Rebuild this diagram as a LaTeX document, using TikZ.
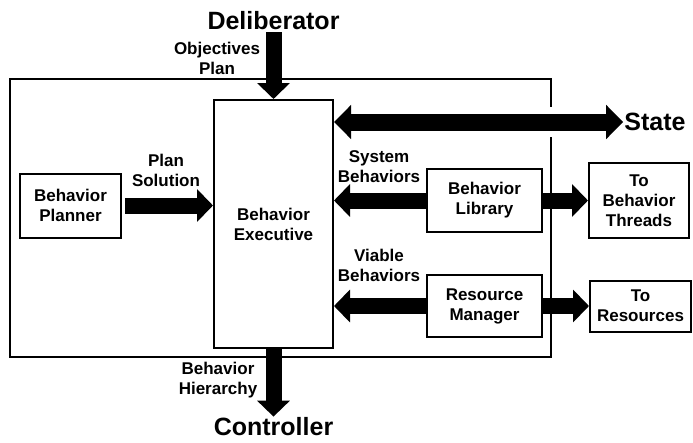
\documentclass[tikz,border=0pt]{standalone}
\usepackage{fontspec}
\setmainfont{Liberation Sans}
\usetikzlibrary{positioning,arrows.meta}

\begin{document}
\begin{tikzpicture}[
    x=1pt,y=1pt,
    every node/.style={font=\bfseries\fontsize{17}{20}\selectfont,align=center},
    big/.style={font=\bfseries\fontsize{25}{30}\selectfont,inner sep=2pt},
    box/.style={draw,line width=2pt,align=center,inner sep=2pt},
    fat/.style={line width=16pt,-{Triangle[width=32pt,length=16pt]}},
    fatboth/.style={line width=17pt,{Triangle[width=33pt,length=17pt]}-{Triangle[width=33pt,length=17pt]}}
]
\useasboundingbox (0,0) rectangle (693,-442);

% Outer frame
\draw[line width=2pt] (10,-79) rectangle (551,-357);

% Executive in the middle
\node[box,minimum width=119pt,minimum height=248pt] (exec) at (273.5,-224) {Behavior\\Executive};

% Deliberator above, Controller below
\node[big] (delib) at (273.5,-21) {Deliberator};
\node[big,inner sep=1pt] (ctrl) at (273.5,-427) {Controller};
\draw[fat] (delib) -- (exec);
\draw[fat] (exec) -- (ctrl);
\node (obj) at (217,-58) {Objectives\\Plan};
\node (hier) at (218,-380) {Behavior\\Hierarchy};

% Planner
\node[box,minimum width=101pt,minimum height=64pt] (planner) at (70.5,-205.5) {Behavior\\Planner};
\draw[fat,shorten <=3pt] (planner.east) -- (planner.east -| exec.west);
\node (plansol) at (166,-170) {Plan\\Solution};

% Library and resources
\node[box,minimum width=115pt,minimum height=63pt] (library) at (484.5,-200.5) {Behavior\\Library};
\node[box,minimum width=115pt,minimum height=62pt,below=41pt of library] (resmgr) {Resource\\Manager};
\node[box,minimum width=100pt,minimum height=75pt,right=45pt of library] (threads) {To\\Behavior\\Threads};
\node[box,minimum width=101pt,minimum height=51pt,right=46pt of resmgr] (resources) {To\\Resources};

\draw[fat] (library.west) -- (library.west -| exec.east);
\draw[fat] (library) -- (threads);
\draw[fat] (resmgr.west) -- (resmgr.west -| exec.east);
\draw[fat] (resmgr) -- (resources);
\node (sysbeh) at (379,-167) {System\\Behaviors};
\node (viable) at (379,-265) {Viable\\Behaviors};

% State
\node[big,inner sep=1pt] (state) at (655,-122) {State};
\draw[white,line width=30pt,shorten <=12pt,shorten >=12pt] (exec.east |- state) -- (state.west);
\draw[fatboth] (exec.east |- state) -- (state.west);

\end{tikzpicture}
\end{document}
